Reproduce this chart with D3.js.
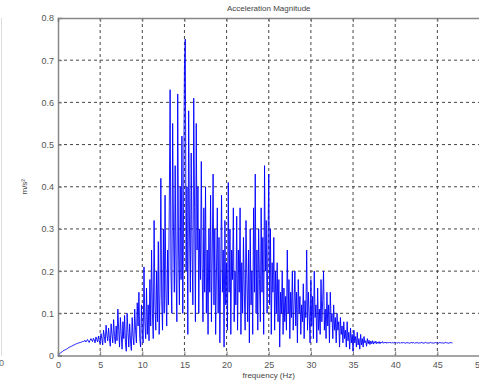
<!DOCTYPE html>
<html><head><meta charset="utf-8">
<script src="https://cdn.jsdelivr.net/npm/d3@7"></script>
<style>body{margin:0;background:#fff;}svg{display:block;font-family:"Liberation Sans",Arial,sans-serif;}</style>
</head><body>
<svg id="c" width="479" height="381"></svg>
<script>
const title = "Acceleration Magnitude";
const xLabel = "frequency (Hz)";
const yLabel = "m/s²";
const xTicks = [0,5,10,15,20,25,30,35,40,45,50];
const yTicks = [0,0.1,0.2,0.3,0.4,0.5,0.6,0.7,0.8];
const freqStep = 0.1; // Hz between samples
// magnitude samples, one row per Hz (10 samples per row)
const magnitude = [
0.000,0.002,0.004,0.006,0.008,0.009,0.011,0.012,0.013,0.014,
0.015,0.016,0.018,0.019,0.020,0.021,0.022,0.023,0.024,0.025,
0.026,0.027,0.028,0.029,0.029,0.030,0.031,0.031,0.032,0.033,
0.033,0.034,0.036,0.032,0.035,0.038,0.034,0.031,0.036,0.040,
0.036,0.033,0.041,0.037,0.030,0.044,0.038,0.032,0.046,0.035,
0.028,0.052,0.040,0.025,0.060,0.045,0.030,0.072,0.048,0.035,
0.065,0.040,0.022,0.075,0.050,0.030,0.085,0.045,0.028,0.070,
0.035,0.110,0.060,0.020,0.090,0.050,0.015,0.080,0.040,0.095,
0.030,0.010,0.100,0.055,0.020,0.075,0.035,0.012,0.090,0.045,
0.025,0.110,0.060,0.030,0.125,0.070,0.150,0.040,0.020,0.120,
0.060,0.030,0.210,0.080,0.040,0.160,0.050,0.120,0.035,0.180,
0.070,0.250,0.100,0.040,0.320,0.120,0.060,0.200,0.080,0.270,
0.050,0.150,0.420,0.130,0.060,0.300,0.100,0.380,0.150,0.070,
0.250,0.120,0.350,0.630,0.200,0.100,0.550,0.300,0.150,0.450,
0.200,0.080,0.620,0.250,0.120,0.400,0.180,0.520,0.100,0.350,
0.680,0.750,0.200,0.400,0.050,0.580,0.300,0.150,0.480,0.250,
0.120,0.610,0.350,0.080,0.550,0.250,0.400,0.100,0.300,0.180,
0.460,0.200,0.080,0.350,0.150,0.400,0.100,0.250,0.050,0.300,
0.150,0.380,0.080,0.250,0.430,0.120,0.300,0.050,0.200,0.350,
0.100,0.280,0.030,0.200,0.380,0.150,0.250,0.020,0.320,0.120,
0.220,0.060,0.410,0.150,0.300,0.050,0.250,0.180,0.350,0.080,
0.200,0.120,0.330,0.060,0.250,0.150,0.350,0.050,0.220,0.100,
0.280,0.150,0.060,0.320,0.180,0.080,0.250,0.030,0.300,0.120,
0.200,0.050,0.350,0.150,0.430,0.100,0.250,0.060,0.300,0.180,
0.080,0.350,0.150,0.280,0.050,0.450,0.200,0.320,0.100,0.250,
0.430,0.120,0.300,0.050,0.220,0.150,0.280,0.060,0.200,0.100,
0.220,0.080,0.180,0.020,0.150,0.100,0.200,0.050,0.160,0.080,
0.140,0.060,0.250,0.100,0.180,0.040,0.150,0.090,0.200,0.060,
0.120,0.200,0.070,0.150,0.030,0.180,0.100,0.140,0.050,0.120,
0.080,0.170,0.040,0.130,0.090,0.250,0.060,0.150,0.100,0.030,
0.180,0.070,0.140,0.040,0.200,0.090,0.120,0.030,0.160,0.060,
0.110,0.050,0.180,0.080,0.130,0.200,0.060,0.110,0.040,0.150,
0.070,0.120,0.030,0.150,0.080,0.100,0.040,0.120,0.060,0.090,
0.030,0.100,0.060,0.080,0.020,0.090,0.050,0.070,0.030,0.080,
0.040,0.060,0.020,0.080,0.035,0.055,0.015,0.065,0.030,0.050,
0.010,0.060,0.030,0.045,0.020,0.055,0.025,0.040,0.015,0.050,
0.025,0.040,0.020,0.045,0.030,0.035,0.022,0.040,0.028,0.036,
0.026,0.034,0.028,0.035,0.027,0.033,0.029,0.034,0.028,0.032,
0.029,0.033,0.028,0.032,0.030,0.033,0.029,0.031,0.030,0.032,
0.029,0.031,0.030,0.032,0.030,0.031,0.029,0.031,0.030,0.031,
0.030,0.031,0.029,0.030,0.031,0.030,0.029,0.031,0.030,0.030,
0.031,0.030,0.029,0.030,0.031,0.030,0.030,0.029,0.030,0.031,
0.030,0.030,0.031,0.029,0.030,0.030,0.031,0.030,0.029,0.030,
0.030,0.031,0.030,0.030,0.029,0.030,0.031,0.030,0.030,0.029,
0.030,0.030,0.031,0.030,0.030,0.029,0.030,0.030,0.031,0.030,
0.030,0.029,0.030,0.031,0.030,0.030,0.030,0.029,0.030,0.030,
0.031,0.030,0.030,0.029,0.030,0.030,0.031,0.030,0.030
];

const svg = d3.select("#c");
const L = 58, T = 18, R = 479.5, B = 355.5;
const x = d3.scaleLinear().domain([0,50]).range([L,R]);
const y = d3.scaleLinear().domain([0,0.8]).range([B,T]);

// faint remnant of neighbouring panel
svg.append("line").attr("x1",1.5).attr("x2",1.5).attr("y1",18).attr("y2",356)
  .attr("stroke","#ddd").attr("stroke-width",1);
svg.append("text").attr("x",-1).attr("y",366).attr("font-size",9).attr("fill","#666").text("0");

// grid
const g = svg.append("g");
g.selectAll(".vg").data(xTicks.filter(d=>d>0&&d<50)).join("line")
  .attr("x1",d=>x(d)).attr("x2",d=>x(d)).attr("y1",T).attr("y2",B)
  .attr("stroke","#444").attr("stroke-width",1).attr("stroke-dasharray","3,3");
g.selectAll(".hg").data(yTicks.filter(d=>d>0&&d<0.8)).join("line")
  .attr("x1",L).attr("x2",R).attr("y1",d=>y(d)).attr("y2",d=>y(d))
  .attr("stroke","#444").attr("stroke-width",1).attr("stroke-dasharray","3,3");

// data line
const line = d3.line().x((d,i)=>x(i*freqStep)).y(d=>y(d));
svg.append("path").datum(magnitude).attr("d",line)
  .attr("fill","none").attr("stroke","#0000ff").attr("stroke-width",1).attr("stroke-opacity",0.9);

// axes
const xa = svg.append("g").attr("transform",`translate(0,${B})`)
  .call(d3.axisBottom(x).tickValues(xTicks).tickSize(-4).tickPadding(6).tickFormat(d3.format("d")));
const ya = svg.append("g").attr("transform",`translate(${L},0)`)
  .call(d3.axisLeft(y).tickValues(yTicks).tickSize(-4).tickPadding(4).tickFormat(d=>d===0?"0":d3.format(".1f")(d)));
const xt = svg.append("g").attr("transform",`translate(0,${T})`)
  .call(d3.axisTop(x).tickValues(xTicks).tickSize(-4).tickFormat(""));
[xa,ya,xt].forEach(a=>{
  a.selectAll(".domain").attr("stroke","#888").attr("stroke-width",1.5);
  a.selectAll(".tick line").attr("stroke","#777");
  a.selectAll("text").attr("font-size",9).attr("fill","#555").attr("font-family","Liberation Sans, Arial, sans-serif");
});

svg.append("text").attr("x",(L+R)/2).attr("y",11).attr("text-anchor","middle")
  .attr("font-size",8).attr("fill","#444").text(title);
svg.append("text").attr("x",(L+R)/2).attr("y",378).attr("text-anchor","middle")
  .attr("font-size",8).attr("fill","#444").text(xLabel);
svg.append("text").attr("transform",`translate(27,${(T+B)/2}) rotate(-90)`).attr("text-anchor","middle")
  .attr("font-size",8).attr("fill","#444").text(yLabel);
</script>
</body></html>
